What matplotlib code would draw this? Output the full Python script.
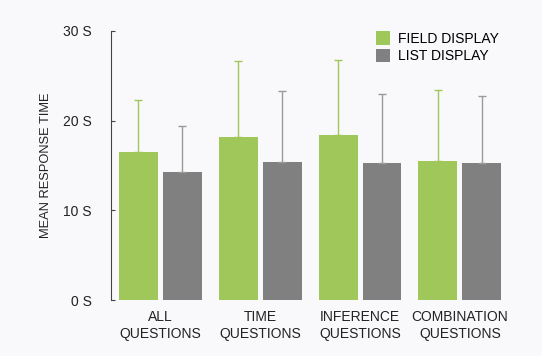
import numpy as np
import matplotlib
matplotlib.use("Agg")
import matplotlib.pyplot as plt

plt.rcParams['font.family'] = ['Liberation Sans', 'DejaVu Sans']

categories = ["ALL\nQUESTIONS", "TIME\nQUESTIONS", "INFERENCE\nQUESTIONS", "COMBINATION\nQUESTIONS"]
field_mean = [16.5, 18.2, 18.4, 15.5]
field_err = [5.8, 8.5, 8.4, 7.9]
list_mean = [14.3, 15.4, 15.3, 15.3]
list_err = [5.1, 7.9, 7.7, 7.4]
yticks = [0, 10, 20, 30]
ytick_labels = ["0 S", "10 S", "20 S", "30 S"]

GREEN = "#a0c75a"
GRAY = "#808080"
BG = "#f9f9fb"

fig = plt.figure(figsize=(5.42, 3.56), dpi=100, facecolor=BG)
ax = fig.add_axes([0.205, 0.157, 0.734, 0.756], facecolor=BG)

x = np.arange(len(categories))
w = 0.39
off = 0.22
ax.bar(x - off, field_mean, w, color=GREEN, label="FIELD DISPLAY",
       yerr=[np.zeros(len(x)), field_err],
       error_kw=dict(ecolor=GREEN, elinewidth=1, capsize=2.8, capthick=1))
ax.bar(x + off, list_mean, w, color=GRAY, label="LIST DISPLAY",
       yerr=[np.zeros(len(x)), list_err],
       error_kw=dict(ecolor="#9a9a9a", elinewidth=1, capsize=2.8, capthick=1))

ax.set_xlim(-0.49, 3.49)
ax.set_ylim(0, 30)
ax.set_yticks(yticks)
ax.set_yticklabels(ytick_labels, fontsize=10, color="#222222")
ax.set_xticks(x)
ax.set_xticklabels(categories, fontsize=10, color="#222222", linespacing=1.3)
ax.tick_params(axis='x', length=0, pad=7)
ax.tick_params(axis='y', direction='in', length=3, width=0.8, color="#444444", pad=14)
for s in ["top", "right", "bottom"]:
    ax.spines[s].set_visible(False)
ax.spines["left"].set_color("#444444")
ax.spines["left"].set_linewidth(0.8)

ax.set_ylabel("MEAN RESPONSE TIME", fontsize=9.3, color="#222222", labelpad=8)

ax.legend(loc="upper left", bbox_to_anchor=(0.635, 1.045), frameon=False,
          fontsize=10, handlelength=1.0, handleheight=1.1, handletextpad=0.6,
          labelspacing=0.2)

fig.savefig("out.png", dpi=100, facecolor=BG)
